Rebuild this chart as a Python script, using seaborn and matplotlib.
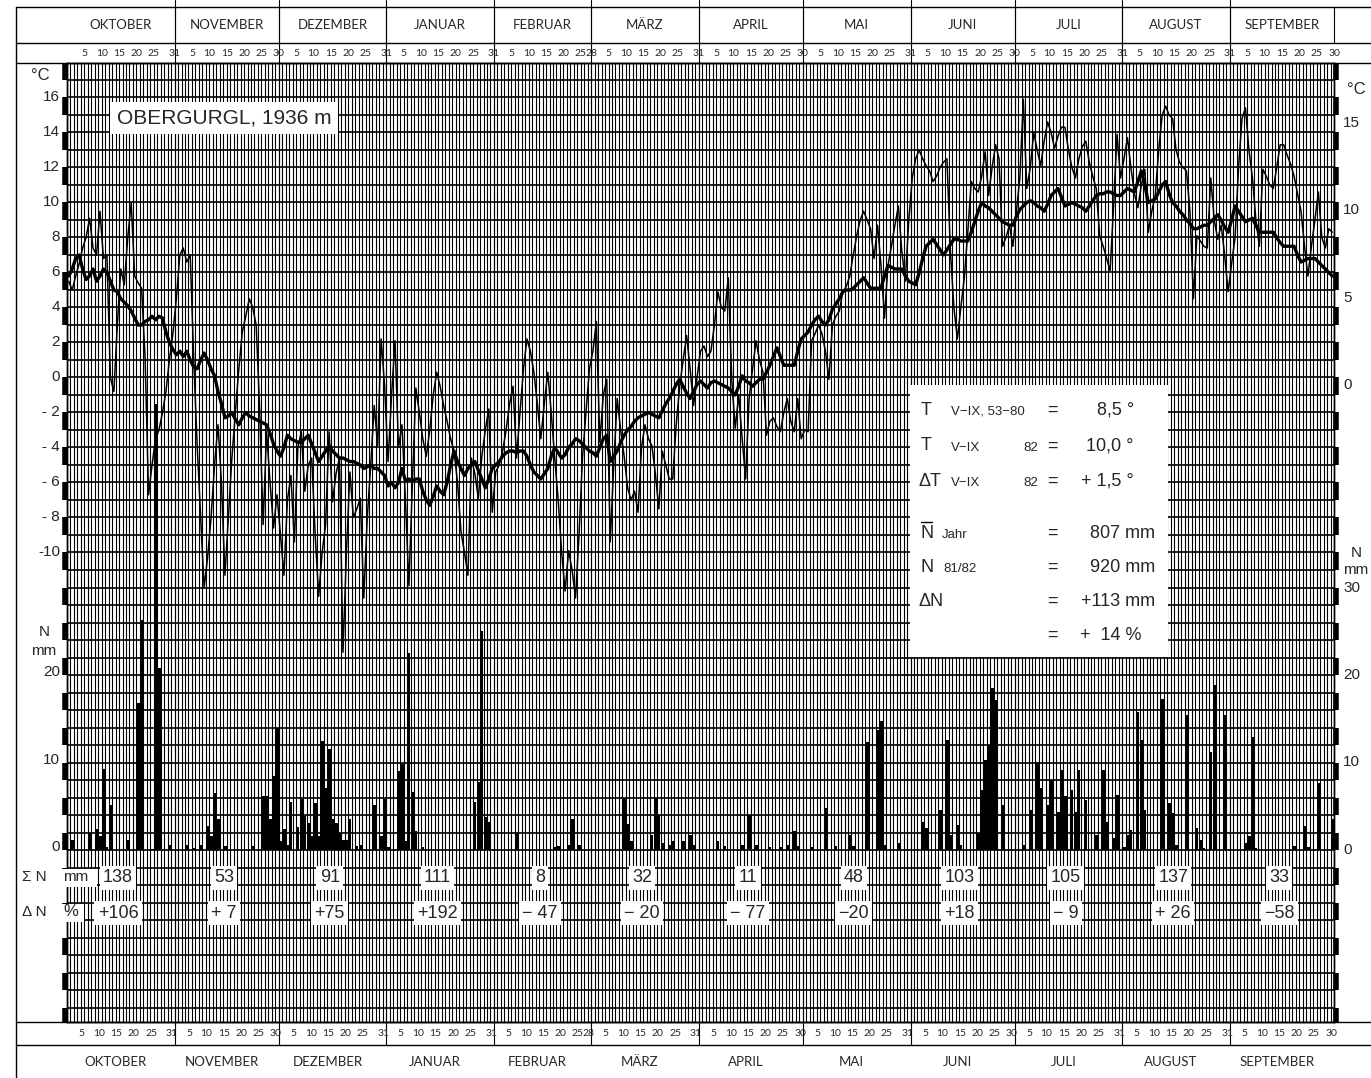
import numpy as np
import pandas as pd
import seaborn as sns
import matplotlib
matplotlib.use("Agg")
import matplotlib.pyplot as plt
import matplotlib.transforms as mtransforms
from matplotlib.lines import Line2D
from matplotlib.patches import Rectangle

sns.set_style("white")
plt.rcParams['font.family'] = ['Liberation Sans', 'DejaVu Sans']

# ---- data (hydrological year Oct 1981 - Sep 1982) ----
months = ["OKTOBER", "NOVEMBER", "DEZEMBER", "JANUAR", "FEBRUAR", "MÄRZ",
          "APRIL", "MAI", "JUNI", "JULI", "AUGUST", "SEPTEMBER"]
month_days = [31, 30, 31, 31, 28, 31, 30, 31, 30, 31, 31, 30]

# daily temperature (°C)
t_oct = [5.5, 5.0, 5.8, 6.5, 7.4, 8.0, 9.1, 7.4, 7.0, 9.5, 6.8, 7.0, 0.0, -0.8, 3.0, 6.2, 5.3, 8.0, 10.0, 5.8,
         5.4, 5.1, 1.1, -6.7, -5.0, -3.5, -3.0, -2.0, -0.8, 1.0, 2.5]
t_nov = [4.5, 7.0, 7.4, 6.6, 7.0, 1.1, -3.9, -8.0, -12.0, -10.3, -8.0, -5.0, -2.7, -6.0, -11.3, -8.0, -4.6, -2.0,
         0.5, 2.6, 3.5, 4.5, 4.0, 3.0, -1.8, -8.4, -3.1, -6.0, -8.6, -6.7]
t_dec = [-9.0, -11.3, -7.0, -5.6, -9.4, -4.0, -3.1, -6.5, -5.0, -4.6, -9.0, -12.5, -10.0, -8.4, -3.1, -7.1, -5.5,
         -4.6, -15.7, -10.0, -5.4, -8.0, -7.5, -6.9, -12.6, -8.0, -5.0, -1.6, -3.9, 2.2, -0.5]
t_jan = [-4.8, -1.0, 2.1, -4.0, -2.7, -7.0, -11.9, -6.0, -0.6, -2.0, -3.5, -4.5, -3.0, -1.0, 0.3, -0.5, -1.6, -2.5,
         -3.5, -4.2, -6.0, -8.8, -10.0, -11.3, -4.6, -5.5, -6.9, -4.5, -3.0, -1.8, -7.7]
t_feb = [-5.4, -5.0, -4.2, -3.0, -1.5, -0.5, -4.6, -2.0, 0.5, 2.2, 1.5, 0.3, -1.5, -3.5, -1.5, 0.3, -2.0, -4.6,
         -7.0, -10.0, -12.2, -9.9, -11.0, -12.6, -9.0, -4.6, -2.0, 0.5]
t_mar = [1.5, 3.2, -3.7, -1.0, -0.1, -9.4, -5.0, -1.2, -3.0, -4.5, -6.3, -7.0, -6.5, -7.7, -4.0, -2.7, -3.5, -3.9,
         -5.5, -7.5, -4.2, -5.0, -5.8, -5.8, -2.7, -0.5, 1.0, 2.4, 0.5, -1.6, 0.0]
t_apr = [1.5, 1.8, 1.2, 1.5, 3.0, 4.9, 4.0, 3.8, 5.7, -0.1, -2.9, -1.0, -3.5, -5.8, -1.2, 0.5, 2.1, 1.0, 0.3, -3.3,
         -2.5, -2.3, -2.8, -3.1, -2.0, -1.2, -2.5, -3.1, -1.2, -3.5]
t_may = [-3.0, -3.1, 2.1, 2.5, 3.0, 2.5, 1.5, -0.1, 3.0, 3.5, 3.8, 4.9, 5.2, 5.8, 7.0, 8.1, 9.0, 9.5, 9.0, 8.5,
         6.8, 8.7, 6.4, 3.4, 6.4, 7.5, 8.7, 9.8, 7.2, 5.5, 9.0]
t_jun = [11.4, 12.5, 13.0, 12.5, 12.1, 11.8, 11.2, 11.5, 12.0, 12.3, 12.5, 7.2, 4.0, 2.2, 4.0, 5.7, 8.3, 11.2,
         10.8, 10.6, 11.5, 12.9, 10.4, 12.0, 13.3, 12.5, 7.5, 8.0, 8.7, 7.5]
t_jul = [9.5, 11.4, 15.9, 10.8, 12.0, 14.0, 13.0, 12.1, 13.5, 14.6, 14.0, 13.1, 13.8, 14.3, 14.3, 13.0, 12.0, 11.4,
         12.5, 13.2, 13.5, 12.3, 11.5, 10.8, 8.1, 7.5, 6.8, 6.1, 9.8, 13.9, 11.4]
t_aug = [12.5, 13.7, 12.0, 10.5, 9.7, 11.0, 11.9, 8.3, 9.5, 10.4, 13.0, 15.0, 15.5, 15.0, 14.8, 13.0, 12.3, 12.0,
         11.8, 9.5, 4.5, 8.1, 7.8, 7.5, 7.4, 11.4, 9.0, 7.9, 8.7, 7.0, 4.9]
t_sep = [6.5, 8.0, 12.0, 14.8, 15.4, 13.0, 11.4, 9.0, 7.5, 11.9, 11.5, 11.0, 10.8, 12.0, 13.3, 13.3, 12.7, 12.2,
         11.5, 10.5, 9.5, 7.5, 5.8, 7.5, 9.0, 10.6, 8.0, 7.4, 8.5, 8.3]

# smoothed temperature (thick line)
m_oct = [5.8, 6.2, 6.8, 7.0, 6.2, 5.6, 5.8, 6.2, 5.5, 5.8, 6.2, 6.0, 5.5, 5.0, 4.9, 4.5, 4.3, 4.1, 3.8, 3.4, 3.0,
         3.0, 3.2, 3.3, 3.5, 3.3, 3.5, 3.4, 2.6, 2.0, 1.6]
m_nov = [1.3, 1.5, 1.2, 1.5, 1.0, 0.6, 0.5, 1.0, 1.4, 1.0, 0.5, 0.1, -0.8, -1.5, -2.3, -2.2, -2.0, -2.4, -2.7,
         -2.3, -2.0, -2.2, -2.3, -2.4, -2.5, -2.6, -2.7, -3.2, -3.8, -4.2]
m_dec = [-4.5, -4.0, -3.3, -3.5, -3.6, -3.7, -3.7, -3.5, -3.3, -3.8, -4.3, -4.8, -4.5, -4.2, -3.9, -4.2, -4.4,
         -4.6, -4.6, -4.7, -4.8, -4.8, -4.9, -5.0, -5.2, -5.1, -5.0, -5.2, -5.2, -5.4, -5.6]
m_jan = [-6.2, -6.0, -6.3, -6.0, -5.2, -5.9, -5.8, -5.9, -5.8, -5.8, -6.5, -7.0, -7.3, -6.8, -6.2, -6.5, -6.7,
         -6.0, -5.0, -4.2, -4.8, -5.2, -5.6, -5.2, -5.0, -4.8, -5.3, -5.8, -6.3, -5.8, -5.2]
m_feb = [-5.0, -4.8, -4.5, -4.3, -4.2, -4.2, -4.3, -4.2, -4.2, -4.5, -5.0, -5.4, -5.6, -5.8, -5.5, -5.2, -4.5,
         -4.0, -4.3, -4.6, -4.4, -4.0, -3.8, -3.5, -3.6, -3.8, -4.0, -4.2]
m_mar = [-4.3, -4.5, -4.0, -3.5, -3.3, -4.8, -4.5, -4.2, -3.7, -3.3, -3.0, -2.8, -2.5, -2.3, -2.2, -2.1, -2.0,
         -2.1, -2.2, -2.3, -1.9, -1.5, -1.2, -0.8, -0.4, -0.1, -0.5, -0.9, -1.2, -0.8, -0.4]
m_apr = [-0.2, -0.4, -0.6, -0.3, -0.2, -0.3, -0.4, -0.5, -0.6, -0.8, -1.0, -0.5, 0.1, -0.2, -0.3, -0.5, -0.3,
         -0.1, -0.1, 0.3, 0.7, 1.2, 1.7, 1.2, 0.7, 0.7, 0.7, 0.7, 1.5, 2.2]
m_may = [2.4, 2.6, 3.0, 3.3, 3.5, 3.2, 3.0, 3.3, 3.9, 4.2, 4.5, 4.9, 5.0, 5.0, 5.1, 5.3, 5.5, 5.7, 5.4, 5.1, 5.1,
         5.1, 5.1, 5.8, 6.4, 6.3, 6.2, 6.2, 6.2, 5.8, 5.5]
m_jun = [5.4, 5.3, 6.0, 6.8, 7.5, 7.7, 7.9, 7.6, 7.3, 7.0, 7.3, 7.6, 7.9, 7.9, 7.8, 7.8, 7.8, 8.3, 8.9, 9.5, 10.0,
         9.8, 9.7, 9.5, 9.3, 9.1, 8.9, 8.8, 8.7, 8.7]
m_jul = [9.2, 9.6, 9.8, 10.0, 10.1, 10.0, 9.8, 9.7, 9.5, 9.9, 10.4, 10.6, 10.8, 10.3, 9.8, 9.9, 10.0, 9.9, 9.8,
         9.7, 9.5, 9.8, 10.1, 10.4, 10.5, 10.5, 10.6, 10.6, 10.5, 10.4, 10.4]
m_aug = [10.6, 10.8, 10.7, 10.6, 11.2, 11.8, 11.0, 10.0, 10.1, 10.2, 10.6, 11.0, 11.2, 10.5, 10.0, 9.8, 9.5, 9.3,
         9.0, 8.8, 8.5, 8.5, 8.6, 8.7, 8.7, 8.9, 9.1, 9.3, 9.0, 8.6, 8.3]
m_sep = [9.0, 9.8, 9.5, 9.2, 8.9, 9.0, 9.1, 8.7, 8.3, 8.3, 8.3, 8.3, 8.3, 8.0, 7.7, 7.5, 7.5, 7.5, 7.5, 7.0, 6.6,
         6.7, 6.8, 6.8, 6.8, 6.6, 6.4, 6.2, 6.0, 5.8]

# daily precipitation (mm)
p_oct = [0, 1.1, 0, 0, 0, 0, 2.0, 0, 2.4, 1.6, 9.3, 0.3, 5.1, 0, 0, 0, 0, 1.2, 0, 0, 16.8, 26.3, 0, 0, 0.1,
         51.0, 20.8, 0, 0, 0.6, 0]
p_nov = [0, 0, 0, 0.6, 0, 0.2, 0, 0.6, 0, 2.7, 1.6, 6.5, 3.5, 0, 0.5, 0, 0, 0, 0, 0, 0, 0, 0.5, 0, 0, 6.2, 6.2,
         3.5, 8.5, 14.0]
p_dec = [1.0, 2.4, 0.6, 5.5, 0, 2.6, 5.8, 3.9, 3.1, 1.6, 5.4, 1.6, 12.5, 7.1, 11.5, 3.5, 3.1, 2.0, 1.2, 1.2, 3.5,
         0, 0.5, 0.6, 0, 0, 0, 5.2, 0, 1.6, 5.8]
p_jan = [0.3, 0, 0, 9.0, 9.8, 1.0, 22.5, 6.6, 2.2, 0, 0.3, 0, 0, 0, 0, 0, 0, 0, 0, 0, 0, 0, 0, 0, 0, 5.5, 7.8,
         25.0, 3.8, 3.2, 0]
p_feb = [0, 0, 0, 0, 0, 0, 2.0, 0, 0, 0, 0, 0, 0, 0, 0, 0, 0, 0.3, 0.5, 0, 0, 0.6, 3.5, 0, 0.6, 0, 0, 0]
p_mar = [0, 0, 0, 0, 0, 0, 0, 0, 0, 6.0, 3.0, 1.0, 0, 0, 0, 0, 0, 1.7, 6.0, 4.0, 0.8, 0, 0.6, 1.0, 0, 0, 1.0,
         0, 1.7, 0.6, 0]
p_apr = [0, 0, 0, 0, 0, 1.0, 0, 0.5, 0, 0, 0, 0, 0.6, 0, 4.0, 0, 0.6, 0, 0, 0, 0.3, 0, 0, 0.3, 0, 0.6, 0, 2.2,
         0.5, 0]
p_may = [0, 0, 0.3, 0, 0, 0, 4.8, 0, 0, 0.5, 0, 0, 0, 1.7, 0.5, 0, 0, 0, 12.3, 0, 0, 13.7, 14.8, 0.6, 0, 0, 0,
         0.8, 0, 0, 0]
p_jun = [0, 0, 0, 3.2, 2.5, 0, 0, 0, 4.6, 0, 12.6, 1.7, 0, 2.9, 0.6, 0, 0, 0, 0, 2.0, 6.9, 10.3, 12.0, 18.5,
         17.1, 0, 5.1, 0, 0, 0]
p_jul = [0, 0, 0.6, 0, 4.6, 0, 10.1, 7.1, 0, 5.1, 8.0, 0, 4.3, 9.1, 6.2, 0, 6.9, 4.3, 9.1, 0, 5.7, 0, 0, 1.7, 0,
         9.1, 3.2, 0, 1.4, 6.3, 0]
p_aug = [0.4, 1.7, 2.3, 0, 15.8, 12.6, 4.6, 0, 0, 0, 0, 17.3, 0, 5.4, 4.2, 0.6, 0, 0, 15.4, 0, 0, 2.5, 1.1, 0.2,
         0, 11.2, 18.9, 0, 0, 15.4, 0]
p_sep = [0, 0, 0, 0, 0.8, 1.6, 12.9, 0.2, 0, 0, 0, 0, 0, 0, 0, 0, 0, 0, 0.5, 0, 0, 2.8, 0.3, 0, 0, 7.7, 0, 0,
         0, 3.6]

month_sum = ["138", "53", "91", "111", "8", "32", "11", "48", "103", "105", "137", "33"]
month_dev = ["+106", "+ 7", "+75", "+192", "\u2212 47", "\u2212 20", "\u2212 77", "\u221220", "+18", "\u2212 9",
             "+ 26", "\u221258"]

temp_ticks_left = [16, 14, 12, 10, 8, 6, 4, 2, 0, -2, -4, -6, -8, -10]
temp_ticks_right = [15, 10, 5, 0]
prec_ticks_left = [20, 10, 0]
prec_ticks_right = [30, 20, 10, 0]

temp = t_oct + t_nov + t_dec + t_jan + t_feb + t_mar + t_apr + t_may + t_jun + t_jul + t_aug + t_sep
tmean = m_oct + m_nov + m_dec + m_jan + m_feb + m_mar + m_apr + m_may + m_jun + m_jul + m_aug + m_sep
prec = p_oct + p_nov + p_dec + p_jan + p_feb + p_mar + p_apr + p_may + p_jun + p_jul + p_aug + p_sep

df = pd.DataFrame({"day": np.arange(len(temp)) + 0.5, "temp": temp, "mean": tmean, "prec": prec})
month_start = np.concatenate([[0], np.cumsum(month_days)[:-1]])
n_days = sum(month_days)

# ---- figure / layout (pixel based) ----
W, H = 1371, 1078
fig = plt.figure(figsize=(W / 100, H / 100), dpi=100)


def fx(x):
    return x / W


def fy(y):
    return 1 - y / H


L, R, T, B = 67, 1334, 63, 1022
ax = fig.add_axes([fx(L), fy(B), (R - L) / W, (B - T) / H])
t_top = (377.5 - T) / 17.5
t_bot = (377.5 - B) / 17.5
ax.set_xlim(0, n_days)
ax.set_ylim(t_bot, t_top)

# paper grid: one line per day, one per degree
ax.vlines(np.arange(0, n_days + 1), t_bot, t_top, color="black", lw=0.8, zorder=0)
ax.hlines(np.arange(-36, 18), 0, n_days, color="black", lw=1.2, zorder=0.5)

sns.lineplot(data=df, x="day", y="temp", color="black", lw=1.1, ax=ax, zorder=3)
sns.lineplot(data=df, x="day", y="mean", color="black", lw=2.4, ax=ax, zorder=4)

ax2 = ax.twinx()
sns.barplot(data=df, x="day", y="prec", native_scale=True, color="black", saturation=1,
            width=0.9, errorbar=None, linewidth=0, ax=ax2)
ax2.set_ylim(2 * (t_bot + 27), 2 * (t_top + 27))
ax2.set_xlim(0, n_days)

for a in (ax, ax2):
    a.set_xticks([])
    a.set_yticks([])
    a.set_xlabel("")
    a.set_ylabel("")
    for s in a.spines.values():
        s.set_color("black")
        s.set_linewidth(1.0)

# checkered scale bars at both edges
bl = mtransforms.blended_transform_factory(ax.transAxes, ax.transData)
for k in range(-37, 18):
    if k % 2 == 1:
        lo, hi = max(k, t_bot), min(k + 1, t_top)
        for xa in (-0.0015, 1.0015):
            ax.add_line(Line2D([xa, xa], [lo, hi], transform=bl, color="black", lw=4,
                               solid_capstyle="butt", clip_on=False, zorder=5))

# axis labels
lab_t = mtransforms.blended_transform_factory(fig.transFigure, ax.transData)
lab_p = mtransforms.blended_transform_factory(fig.transFigure, ax2.transData)
tick_kw = dict(fontsize=11, va="center")
for v in temp_ticks_left:
    s = str(v) if v >= 0 or v <= -10 else "- " + str(-v)
    fig.text(fx(60), v, s, ha="right", transform=lab_t, **tick_kw)
for v in temp_ticks_right:
    fig.text(fx(1343), v - 0.45, str(v), ha="left", transform=lab_t, **tick_kw)
for v in prec_ticks_left:
    fig.text(fx(60), v + 0.3, str(v), ha="right", transform=lab_p, **tick_kw)
for v in prec_ticks_right:
    fig.text(fx(1343), v, str(v), ha="left", transform=lab_p, **tick_kw)

fig.text(fx(40), fy(76), "°C", fontsize=12, ha="center", va="center")
fig.text(fx(1356), fy(90), "°C", fontsize=12, ha="center", va="center")
fig.text(fx(44), fy(632), "N", fontsize=11, ha="center", va="center")
fig.text(fx(44), fy(651), "mm", fontsize=11, ha="center", va="center")
fig.text(fx(1356), fy(553), "N", fontsize=11, ha="center", va="center")
fig.text(fx(1356), fy(570), "mm", fontsize=11, ha="center", va="center")

# frame of the sheet
line_kw = dict(color="black", lw=1.0)
for yy in (7, 43, 63, 1022, 1045):
    fig.add_artist(Line2D([fx(16), 1], [fy(yy), fy(yy)], transform=fig.transFigure, **line_kw))
fig.add_artist(Line2D([fx(16), fx(16)], [fy(7), 0], transform=fig.transFigure, **line_kw))

hdr = mtransforms.blended_transform_factory(ax.transData, fig.transFigure)
for st in month_start[1:]:
    fig.add_artist(Line2D([st, st], [fy(7), fy(43)], transform=hdr, color="black", lw=0.8))
    fig.add_artist(Line2D([st, st], [fy(1045), 1], transform=hdr, color="black", lw=0.8))
fig.add_artist(Line2D([n_days, n_days], [fy(7), fy(43)], transform=hdr, color="black", lw=0.8))

mfont = ['Lato', 'DejaVu Sans']
for name, st, nd in zip(months, month_start, month_days):
    mid = st + nd / 2
    fig.text(mid, fy(25), name, transform=hdr, ha="center", va="center", fontsize=9.5, family=mfont)
    fig.text(mid - 1.5, fy(1062), name, transform=hdr, ha="center", va="center", fontsize=9.5, family=mfont)
    for dn in [5, 10, 15, 20, 25, nd]:
        fig.text(st + dn, fy(53), str(dn), transform=hdr, ha="center", va="center", fontsize=7.5, family=mfont)
        fig.text(st + dn - 0.8, fy(1034), str(dn), transform=hdr, ha="center", va="center", fontsize=7.5,
                 family=mfont)

# station name
fig.text(fx(224), fy(118), "OBERGURGL, 1936 m", fontsize=15, ha="center", va="center",
         bbox=dict(boxstyle="square,pad=0.3", fc="white", ec="none"))

# monthly sums and deviations
box = dict(boxstyle="square,pad=0.18", fc="white", ec="none")
for st, nd, s, d in zip(month_start, month_days, month_sum, month_dev):
    xm = st + nd / 2 - 0.8
    fig.text(xm, fy(878), s, transform=hdr, ha="center", va="center", fontsize=13, bbox=box, zorder=4)
    fig.text(xm, fy(913), d, transform=hdr, ha="center", va="center", fontsize=13, bbox=box, zorder=4)

fig.add_artist(Rectangle((fx(61), fy(887)), (97 - 61) / W, 18 / H,
                         transform=fig.transFigure, fc="white", ec="none", zorder=3))
fig.add_artist(Rectangle((fx(61), fy(922)), (84 - 61) / W, 18 / H,
                         transform=fig.transFigure, fc="white", ec="none", zorder=3))
fig.text(fx(63), fy(877), "mm", fontsize=11, ha="left", va="center", zorder=4)
fig.text(fx(63), fy(912), "%", fontsize=12, ha="left", va="center", zorder=4)
fig.text(fx(34), fy(877), "Σ N", fontsize=11, ha="center", va="center")
fig.text(fx(34), fy(912), "Δ N", fontsize=11, ha="center", va="center")

# summary box
fig.add_artist(Rectangle((fx(910), fy(657)), (1168 - 910) / W, (657 - 385) / H,
                         transform=fig.transFigure, fc="white", ec="none", zorder=3))
big = dict(fontsize=13, va="center", zorder=4)
small = dict(fontsize=9.5, va="center", zorder=4)
rows = [410, 446, 481, 533, 567, 601, 635]
fig.text(fx(921), fy(rows[0]), "T", ha="left", **big)
fig.text(fx(951), fy(rows[0] + 2), "V\u2212IX, 53\u221280", ha="left", **small)
fig.text(fx(1134), fy(rows[0]), "8,5 °", ha="right", **big)
fig.text(fx(921), fy(rows[1]), "T", ha="left", **big)
fig.text(fx(951), fy(rows[1] + 2), "V\u2212IX", ha="left", **small)
fig.text(fx(1038), fy(rows[1] + 2), "82", ha="right", **small)
fig.text(fx(1134), fy(rows[1]), "10,0 °", ha="right", **big)
fig.text(fx(919), fy(rows[2]), "\u0394T", ha="left", **big)
fig.text(fx(951), fy(rows[2] + 2), "V\u2212IX", ha="left", **small)
fig.text(fx(1038), fy(rows[2] + 2), "82", ha="right", **small)
fig.text(fx(1134), fy(rows[2]), "+ 1,5 °", ha="right", **big)
fig.text(fx(921), fy(rows[3]), "N", ha="left", **big)
fig.add_artist(Line2D([fx(921), fx(932)], [fy(522), fy(522)], transform=fig.transFigure, color="black",
                      lw=1.0, zorder=4))
fig.text(fx(942), fy(rows[3] + 2), "Jahr", ha="left", **small)
fig.text(fx(1155), fy(rows[3]), "807 mm", ha="right", **big)
fig.text(fx(921), fy(rows[4]), "N", ha="left", **big)
fig.text(fx(943), fy(rows[4] + 2), "81/82", ha="left", **small)
fig.text(fx(1155), fy(rows[4]), "920 mm", ha="right", **big)
fig.text(fx(919), fy(rows[5]), "\u0394N", ha="left", **big)
fig.text(fx(1155), fy(rows[5]), "+113 mm", ha="right", **big)
fig.text(fx(1141), fy(rows[6]), "+  14 %", ha="right", **big)
for r in rows:
    fig.text(fx(1052), fy(r), "=", ha="center", **big)

fig.savefig("out.png", dpi=100)
